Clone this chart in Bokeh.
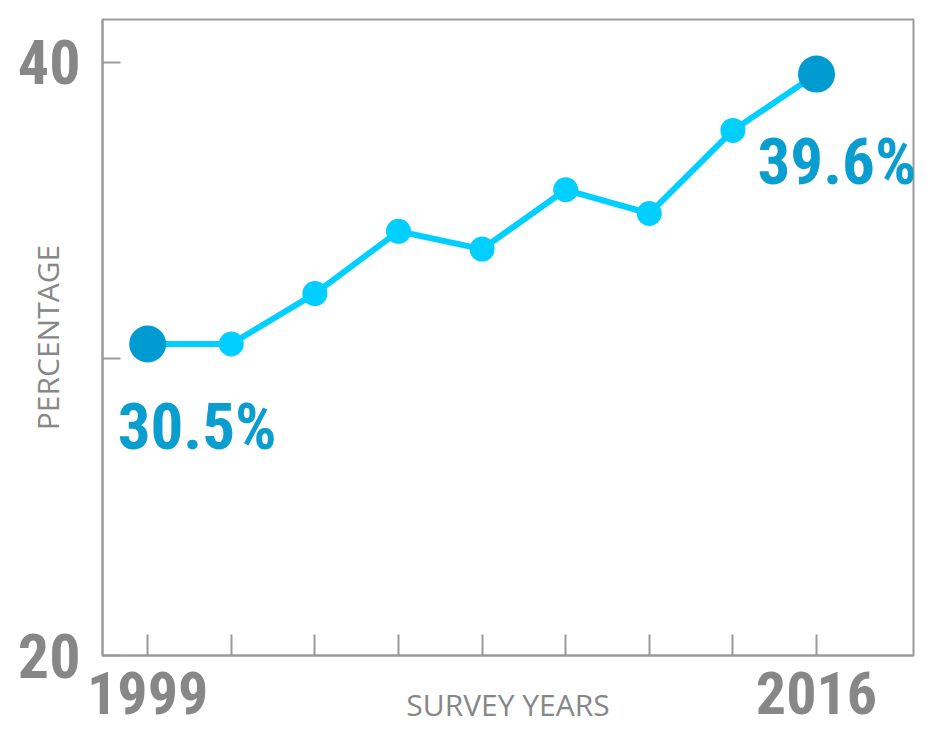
from bokeh.plotting import figure
from bokeh.models import Range1d, FixedTicker
from bokeh.core.properties import value
from bokeh.embed import file_html
from bokeh.resources import INLINE

# ---- data ----
years = ["1999", "2001", "2003", "2005", "2007", "2009", "2011", "2013", "2016"]
percent = [30.5, 30.5, 32.2, 34.3, 33.7, 35.7, 34.9, 37.7, 39.6]
y_ticks = [20, 30, 40]
y_tick_labels = ["20", "", "40"]
end_labels = ["30.5%", "39.6%"]

xs = list(range(len(years)))

GRAY = "#878787"
AXIS = "#9a9a9a"
LINE = "#00cfff"
DARK = "#009bd0"
LABEL_BLUE = "#0a9dd0"
COND = "'Roboto Condensed', 'Liberation Sans Narrow', 'DejaVu Sans Condensed', sans-serif"

p = figure(width=934, height=730, output_backend="svg", toolbar_location=None,
           x_range=Range1d(-0.54, 9.16), y_range=Range1d(20, 41.44),
           min_border_left=102, min_border_right=21, min_border_top=19, min_border_bottom=75)

p.background_fill_color = "white"
p.border_fill_color = "white"
p.outline_line_color = AXIS
p.outline_line_width = 2
p.xgrid.visible = False
p.ygrid.visible = False

# line and points
p.line(xs, percent, line_color=LINE, line_width=6)
p.scatter(xs[1:-1], percent[1:-1], size=25, fill_color=LINE, line_color=None)
p.scatter([xs[0], xs[-1]], [percent[0], percent[-1]], size=37, fill_color=DARK, line_color=None)

# end labels
p.text([xs[0]], [percent[0]], text=[end_labels[0]], text_font=value(COND), text_font_style="bold",
       text_font_size="65px", text_color=LABEL_BLUE, text_baseline="alphabetic", text_align="left",
       x_offset=-30, y_offset=83)
p.text([xs[-1]], [percent[-1]], text=[end_labels[1]], text_font=value(COND), text_font_style="bold",
       text_font_size="65px", text_color=LABEL_BLUE, text_baseline="alphabetic", text_align="left",
       x_offset=-59, y_offset=88)

# x axis
xa = p.xaxis[0]
xa.ticker = FixedTicker(ticks=xs)
xa.major_label_overrides = {i: (years[i] if i in (0, len(years) - 1) else "") for i in xs}
xa.major_label_text_font = COND
xa.major_label_text_font_style = "bold"
xa.major_label_text_font_size = "60px"
xa.major_label_text_color = GRAY
xa.major_label_standoff = 16
xa.major_tick_in = 21
xa.major_tick_out = 0
xa.major_tick_line_color = AXIS
xa.major_tick_line_width = 2
xa.minor_tick_line_color = None
xa.axis_line_color = AXIS
xa.axis_line_width = 2
xa.axis_label = "SURVEY YEARS"
xa.axis_label_text_font = "Open Sans"
xa.axis_label_text_font_style = "normal"
xa.axis_label_text_font_size = "30px"
xa.axis_label_text_color = GRAY
xa.axis_label_standoff = -33

# y axis
ya = p.yaxis[0]
ya.ticker = FixedTicker(ticks=y_ticks)
ya.major_label_overrides = {t: l for t, l in zip(y_ticks, y_tick_labels)}
ya.major_label_text_font = COND
ya.major_label_text_font_style = "bold"
ya.major_label_text_font_size = "62px"
ya.major_label_text_color = GRAY
ya.major_label_standoff = 22
ya.major_tick_in = 18
ya.major_tick_out = 0
ya.major_tick_line_color = AXIS
ya.major_tick_line_width = 2
ya.minor_tick_line_color = None
ya.axis_line_color = AXIS
ya.axis_line_width = 2
ya.axis_label = "PERCENTAGE"
ya.axis_label_text_font = "Open Sans"
ya.axis_label_text_font_style = "normal"
ya.axis_label_text_font_size = "30px"
ya.axis_label_text_color = GRAY
ya.axis_label_standoff = -53

open("out.html", "w").write(file_html(p, INLINE))
